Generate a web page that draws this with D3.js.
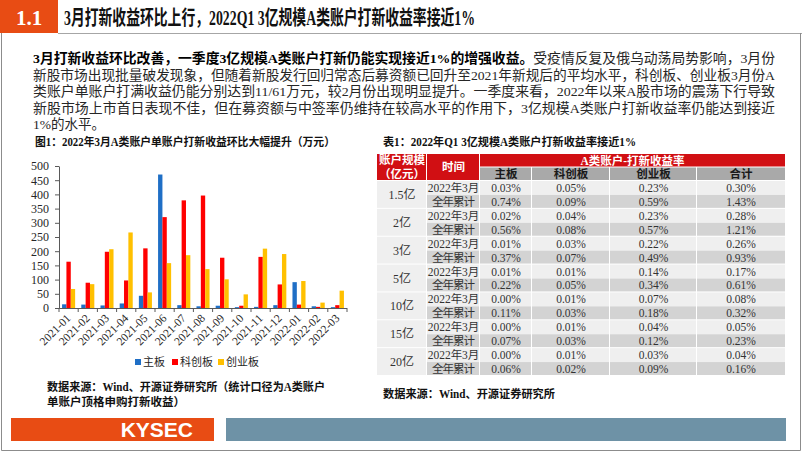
<!DOCTYPE html>
<html><head><meta charset="utf-8">
<script src="https://cdn.jsdelivr.net/npm/d3@7"></script>
<style>body{margin:0;background:#fff}svg{display:block}</style>
</head><body><svg id="c" width="802" height="452"></svg>
<script>
// ---------- data ----------
const months = ["2021-01","2021-02","2021-03","2021-04","2021-05","2021-06","2021-07","2021-08","2021-09","2021-10","2021-11","2021-12","2022-01","2022-02","2022-03"];
const seriesNames = ["主板","科创板","创业板"];
const mainBoard = [13,12,9,16,43,470,10,6,8,3,4,10,91,6,3];
const starBoard = [163,89,198,97,210,320,379,396,177,8,180,83,12,4,10];
const gemBoard  = [67,84,207,266,55,158,186,137,101,48,209,190,95,19,61];
const yTicks = [0,50,100,150,200,250,300,350,400,450,500];

const tierLabels = ["1.5亿","2亿","3亿","5亿","10亿","15亿","20亿"];
const periodLabels = ["2022年3月","全年累计"];
const tableCols = ["主板","科创板","创业板","合计"];
const rateMain  = ["0.03%","0.74%","0.02%","0.56%","0.01%","0.37%","0.01%","0.22%","0.00%","0.11%","0.00%","0.07%","0.00%","0.06%"];
const rateStar  = ["0.05%","0.09%","0.04%","0.08%","0.03%","0.07%","0.01%","0.05%","0.01%","0.03%","0.01%","0.03%","0.01%","0.02%"];
const rateGem   = ["0.23%","0.59%","0.23%","0.57%","0.22%","0.49%","0.14%","0.34%","0.07%","0.18%","0.04%","0.12%","0.03%","0.09%"];
const rateTotal = ["0.30%","1.43%","0.28%","1.21%","0.26%","0.93%","0.17%","0.61%","0.08%","0.32%","0.05%","0.23%","0.04%","0.16%"];

const titleText = "3月打新收益环比上行，2022Q1 3亿规模A类账户打新收益率接近1%";
const bodyBold = "3月打新收益环比改善，一季度3亿规模A类账户打新仍能实现接近1%的增强收益。";
const bodyLines = [
  "受疫情反复及俄乌动荡局势影响，3月份",
  "新股市场出现批量破发现象，但随着新股发行回归常态后募资额已回升至2021年新规后的平均水平，科创板、创业板3月份A",
  "类账户单账户打满收益仍能分别达到11/61万元，较2月份出现明显提升。一季度来看，2022年以来A股市场的震荡下行导致",
  "新股市场上市首日表现不佳，但在募资额与中签率仍维持在较高水平的作用下，3亿规模A类账户打新收益率仍能达到接近",
  "1%的水平。"
];
const chartTitle = "图1：2022年3月A类账户单账户打新收益环比大幅提升（万元）";
const chartSource = ["数据来源：Wind、开源证券研究所（统计口径为A类账户","单账户顶格申购打新收益）"];
const tableTitle = "表1：2022年Q1 3亿规模A类账户打新收益率接近1%";
const tableSource = "数据来源：Wind、开源证券研究所";

// ---------- setup ----------
const SERIF = "'Liberation Serif','Times New Roman','Noto Sans CJK SC',serif";
const SANS = "'Liberation Sans',Arial,'Noto Sans CJK SC',sans-serif";
const ORANGE = "#e84c14";
const colors = {"主板":"#1f6fc6","科创板":"#ff0000","创业板":"#ffc000"};
const svg = d3.select("#c");
svg.append("rect").attr("width",802).attr("height",452).attr("fill","#fff");

// frame
const frame = svg.append("g").attr("stroke","#8c8c8c").attr("stroke-width",1).attr("fill","none");
frame.append("line").attr("x1",58).attr("x2",802).attr("y1",33.5).attr("y2",33.5).attr("stroke","#a6a6a6");
frame.append("line").attr("x1",1.5).attr("x2",1.5).attr("y1",33).attr("y2",450.5);
frame.append("line").attr("x1",800.5).attr("x2",800.5).attr("y1",33).attr("y2",450.5);
frame.append("line").attr("x1",1.5).attr("x2",800.5).attr("y1",450.5).attr("y2",450.5);

// header
svg.append("rect").attr("x",0).attr("y",0).attr("width",58).attr("height",33).attr("fill",ORANGE);
svg.append("text").attr("x",29).attr("y",25).attr("text-anchor","middle")
  .attr("font-family",SERIF).attr("font-weight","bold").attr("font-size",21).attr("fill","#fff").text("1.1");
svg.append("text").attr("x",64).attr("y",25).attr("font-family",SERIF).attr("font-weight","bold")
  .attr("font-size",20.5).attr("fill","#111").attr("textLength",411).attr("lengthAdjust","spacingAndGlyphs").text(titleText);

// body paragraph
const bodyY = [63,79.5,96,112.5,129];
bodyLines.forEach((ln,i)=>{
  const t = svg.append("text").attr("x",33).attr("y",bodyY[i]).attr("font-family",SERIF)
    .attr("font-size",13.5).attr("fill","#262626");
  if(i===0){
    t.append("tspan").attr("font-weight","bold").attr("fill","#000").text(bodyBold);
    t.append("tspan").text(ln);
  } else t.text(ln);
  if(i<bodyLines.length-1) t.attr("textLength",742).attr("lengthAdjust","spacingAndGlyphs");
});

// ---------- bar chart ----------
svg.append("text").attr("x",35).attr("y",146).attr("font-family",SERIF).attr("font-weight","bold")
  .attr("font-size",11.5).attr("fill","#111").attr("textLength",300).attr("lengthAdjust","spacingAndGlyphs").text(chartTitle);

const x0 = d3.scaleBand().domain(months).range([59,347]);
const x1 = d3.scaleBand().domain(seriesNames).range([0,x0.bandwidth()*0.68]);
const groupOff = x0.bandwidth()*0.16;
const y = d3.scaleLinear().domain([0,500]).range([308,166]);

const seriesData = {"主板":mainBoard,"科创板":starBoard,"创业板":gemBoard};
const bars = svg.append("g");
seriesNames.forEach(s=>{
  bars.selectAll(null).data(months).enter().append("rect")
    .attr("x",m=>x0(m)+groupOff+x1(s))
    .attr("width",x1.bandwidth())
    .attr("y",(m,i)=>y(seriesData[s][i]))
    .attr("height",(m,i)=>y(0)-y(seriesData[s][i]))
    .attr("fill",colors[s]);
});

const yAxis = svg.append("g").attr("transform","translate(59,0)")
  .call(d3.axisLeft(y).tickValues(yTicks).tickSize(4).tickSizeOuter(0).tickPadding(6));
yAxis.select(".domain").attr("stroke","#595959");
yAxis.selectAll(".tick line").attr("stroke","#595959");
yAxis.selectAll("text").attr("font-family",SERIF).attr("font-size",12).attr("fill","#262626");

const xAxis = svg.append("g").attr("transform","translate(0,308)");
xAxis.append("line").attr("x1",59).attr("x2",347).attr("y1",0.5).attr("y2",0.5).attr("stroke","#595959");
xAxis.selectAll("line.tk").data(months.concat(["end"])).enter().append("line").attr("class","tk")
  .attr("x1",(m,i)=>i<months.length?x0(m):x0.range()[1]).attr("x2",(m,i)=>i<months.length?x0(m):x0.range()[1])
  .attr("y1",0).attr("y2",4).attr("stroke","#595959");
xAxis.selectAll("text").data(months).enter().append("text")
  .attr("transform",m=>`translate(${x0(m)+x0.bandwidth()/2},8) rotate(-45)`)
  .attr("text-anchor","end").attr("dy","0.35em")
  .attr("font-family",SERIF).attr("font-size",11.5).attr("fill","#262626").text(m=>m);

// legend
const legX = [135,172,218];
const leg = svg.append("g");
seriesNames.forEach((s,i)=>{
  leg.append("rect").attr("x",legX[i]).attr("y",359).attr("width",6).attr("height",6).attr("fill",colors[s]);
  leg.append("text").attr("x",legX[i]+8).attr("y",366).attr("font-family",SERIF).attr("font-size",11)
    .attr("fill","#262626").text(s);
});

chartSource.forEach((s,i)=>{
  const t = svg.append("text").attr("x",47).attr("y",391+i*15).attr("font-family",SERIF).attr("font-weight","bold")
    .attr("font-size",11.5).attr("fill","#111").text(s);
  if(i===0) t.attr("textLength",278).attr("lengthAdjust","spacingAndGlyphs");
});

// ---------- table ----------
svg.append("text").attr("x",383).attr("y",146).attr("font-family",SERIF).attr("font-weight","bold")
  .attr("font-size",11.5).attr("fill","#111").attr("textLength",253).attr("lengthAdjust","spacingAndGlyphs").text(tableTitle);

const colEdges = [377,427,480,532,610,697,785];
const hdrTop = 154, hdrMid = 167.5, hdrBot = 181, tblBot = 376;
const RED = "#d10f13";
const tbl = svg.append("g");
// header cells
tbl.append("rect").attr("x",colEdges[0]).attr("y",hdrTop).attr("width",colEdges[1]-colEdges[0]-1).attr("height",hdrBot-hdrTop-1).attr("fill",RED);
tbl.append("rect").attr("x",colEdges[1]).attr("y",hdrTop).attr("width",colEdges[2]-colEdges[1]-1).attr("height",hdrBot-hdrTop-1).attr("fill",RED);
tbl.append("rect").attr("x",colEdges[2]).attr("y",hdrTop).attr("width",colEdges[6]-colEdges[2]).attr("height",hdrMid-hdrTop-1).attr("fill",RED);
tableCols.forEach((c,i)=>{
  tbl.append("rect").attr("x",colEdges[i+2]).attr("y",hdrMid).attr("width",colEdges[i+3]-colEdges[i+2]-(i<3?1:0))
    .attr("height",hdrBot-hdrMid-1).attr("fill","#a9a9a9");
  tbl.append("text").attr("x",(colEdges[i+2]+colEdges[i+3])/2).attr("y",hdrBot-3.5).attr("text-anchor","middle")
    .attr("font-family",SERIF).attr("font-weight","bold").attr("font-size",11.5).attr("fill","#1a1a1a").text(c);
});
const hText = (x,yy,s)=>tbl.append("text").attr("x",x).attr("y",yy).attr("text-anchor","middle")
  .attr("font-family",SERIF).attr("font-weight","bold").attr("font-size",11.5).attr("fill","#fff").text(s);
hText((colEdges[0]+colEdges[1])/2,164,"账户规模");
hText((colEdges[0]+colEdges[1])/2,178,"（亿元）");
hText((colEdges[1]+colEdges[2])/2,171,"时间");
hText((colEdges[2]+colEdges[6])/2,164.5,"A类账户-打新收益率");

// body rows
const rowIdx = d3.range(tierLabels.length*periodLabels.length);
const ry = d3.scaleBand().domain(rowIdx).range([hdrBot,tblBot]);
const colVals = [rateMain,rateStar,rateGem,rateTotal];
const LIGHT = "#efefef", DARK = "#d3d3d3";
tierLabels.forEach((t,g)=>{
  const top = ry(g*2), h = ry.bandwidth()*2;
  tbl.append("rect").attr("x",colEdges[0]).attr("y",top).attr("width",colEdges[1]-colEdges[0]-1).attr("height",h-1).attr("fill",LIGHT);
  tbl.append("text").attr("x",(colEdges[0]+colEdges[1])/2).attr("y",top+h/2+4).attr("text-anchor","middle")
    .attr("font-family",SERIF).attr("font-size",12).attr("fill","#333").text(t);
});
rowIdx.forEach(r=>{
  const p = r%2, top = ry(r), h = ry.bandwidth();
  const fill = p===0?LIGHT:DARK;
  tbl.append("rect").attr("x",colEdges[1]).attr("y",top).attr("width",colEdges[2]-colEdges[1]-1).attr("height",h-(p?1:0)).attr("fill",fill);
  const pt = tbl.append("text").attr("x",(colEdges[1]+colEdges[2])/2).attr("y",top+h/2+4).attr("text-anchor","middle")
    .attr("font-family",SERIF).attr("font-size",11.5).attr("fill","#333").text(periodLabels[p]);
  if(p===1) pt.attr("textLength",43);
  colVals.forEach((vals,c)=>{
    tbl.append("rect").attr("x",colEdges[c+2]).attr("y",top).attr("width",colEdges[c+3]-colEdges[c+2]-(c<3?1:0))
      .attr("height",h-(p?1:0)).attr("fill",fill);
    tbl.append("text").attr("x",(colEdges[c+2]+colEdges[c+3])/2).attr("y",top+h/2+4).attr("text-anchor","middle")
      .attr("font-family",SERIF).attr("font-size",11.5).attr("fill","#333").text(vals[r]);
  });
});

svg.append("text").attr("x",383).attr("y",398).attr("font-family",SERIF).attr("font-weight","bold")
  .attr("font-size",11.5).attr("fill","#111").attr("textLength",172).attr("lengthAdjust","spacingAndGlyphs").text(tableSource);

// footer
svg.append("rect").attr("x",11).attr("y",418).attr("width",203).attr("height",23).attr("fill",ORANGE);
svg.append("text").attr("x",193).attr("y",437).attr("text-anchor","end").attr("font-family",SANS)
  .attr("font-weight","bold").attr("font-size",21).attr("fill","#fff").text("KYSEC");
svg.append("rect").attr("x",226).attr("y",418).attr("width",560).attr("height",23).attr("fill","#6e92a6");
</script></body></html>
